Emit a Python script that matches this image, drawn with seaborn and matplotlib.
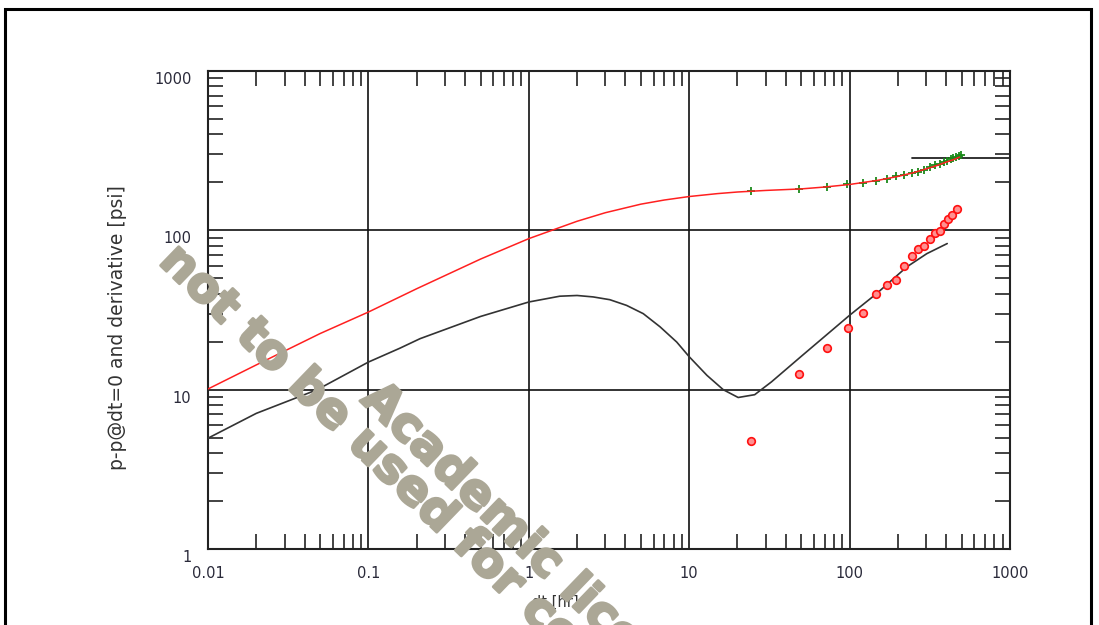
import numpy as np
import pandas as pd
import matplotlib
matplotlib.use("Agg")
import matplotlib.pyplot as plt
import seaborn as sns
from matplotlib.ticker import FixedLocator, LogLocator, NullFormatter
from matplotlib.transforms import ScaledTranslation
import matplotlib.patches as mpatches
import matplotlib.patheffects as pe

# ---------------- data ----------------
model_dt = [0.01, 0.02, 0.05, 0.1, 0.2, 0.5, 1, 2, 3, 5, 7, 10, 15, 20, 30, 50,
            70, 100, 150, 200, 250, 300, 350, 400, 450, 485]
model_dp = [10.1, 14.3, 22.5, 30.7, 43, 66, 88.7, 114, 129, 146, 155, 163, 170,
            174, 178, 182, 187, 194, 206, 218, 230, 243, 255, 268, 279, 288]

deriv_dt = [0.01, 0.02, 0.048, 0.1, 0.157, 0.21, 0.5, 1, 1.56, 2.0, 2.52, 3.2,
            4.07, 5.17, 6.58, 8.36, 10, 12.9, 16.3, 20.2, 25.6, 32.6, 50, 100,
            147.5, 227, 303, 406]
deriv_val = [4.96, 7.1, 10, 14.9, 18.2, 20.9, 28.8, 35.5, 38.6, 39, 38.2, 36.7,
             33.8, 30.0, 24.8, 19.9, 16.1, 12.3, 10.0, 8.93, 9.3, 11.2, 16.2, 29.3,
             40.1, 58.9, 71.4, 82.6]

meas_dt = [24.3, 48.4, 72, 97, 122, 146, 170, 195, 218, 245, 268, 291, 316, 341,
           364, 386, 407, 428, 444, 461, 478, 494]
meas_dp = [176, 182, 188, 194, 199, 205, 210, 218, 224, 229, 233, 240, 250, 256,
           262, 267, 274, 279, 284, 288, 292, 297]

mderiv_dt = [24.3, 48.6, 72.6, 97.3, 122, 145.5, 170, 194.5, 218, 244, 268, 292,
             316, 341, 366, 389, 412, 437, 465]
mderiv = [4.78, 12.6, 18.3, 24.3, 30.3, 39.9, 45.4, 48.6, 59.4, 69, 76, 79.7,
          88.7, 96.8, 99, 110, 118, 124, 137]

flat_dt = [244, 1000]
flat_val = [284, 284]

xticks = [0.01, 0.1, 1, 10, 100, 1000]
xticklabels = ["0.01", "0.1", "1", "10", "100", "1000"]
yticks = [1, 10, 100, 1000]
yticklabels = ["1", "10", "100", "1000"]

xlabel = "dt [hr]"
ylabel = "p-p@dt=0 and derivative [psi]"
wm1 = "not to be used for commercial purposes"
wm2 = "Academic license"

# ---------------- figure ----------------
sns.set_style("white")
plt.rcParams["font.family"] = ["DejaVu Sans"]

W, H = 1099, 625
fig = plt.figure(figsize=(W / 100, H / 100), dpi=100)
ax = fig.add_axes([208 / W, 1 - 549 / H, (1010 - 208) / W, (549 - 71) / H])

df_model = pd.DataFrame({"dt": model_dt, "v": model_dp})
df_deriv = pd.DataFrame({"dt": deriv_dt, "v": deriv_val})
df_meas = pd.DataFrame({"dt": meas_dt, "v": meas_dp})
df_md = pd.DataFrame({"dt": mderiv_dt, "v": mderiv})
df_flat = pd.DataFrame({"dt": flat_dt, "v": flat_val})

sns.lineplot(data=df_model, x="dt", y="v", ax=ax, color="#ff2020", lw=1.1,
             estimator=None, sort=False, zorder=7)
sns.lineplot(data=df_deriv, x="dt", y="v", ax=ax, color="#333333", lw=1.2,
             estimator=None, sort=False, zorder=4)
sns.lineplot(data=df_flat, x="dt", y="v", ax=ax, color="#222222", lw=1.3,
             estimator=None, sort=False, zorder=3)
sns.scatterplot(data=df_md, x="dt", y="v", ax=ax, marker="o", s=30,
                facecolor="#ff9090", edgecolor="#ff1010", linewidth=1.2, zorder=5)
sns.scatterplot(data=df_meas, x="dt", y="v", ax=ax, marker="+", s=30,
                color="#1a8a1a", linewidth=1.3, zorder=6)

ax.set_xscale("log")
ax.set_yscale("log")
ax.set_xlim(0.01, 1000)
ax.set_ylim(1, 1000)

ax.xaxis.set_major_locator(FixedLocator(xticks))
ax.set_xticklabels(xticklabels)
ax.yaxis.set_major_locator(FixedLocator(yticks))
ax.set_yticklabels(yticklabels)
ax.xaxis.set_minor_locator(LogLocator(base=10, subs=np.arange(2, 10), numticks=20))
ax.yaxis.set_minor_locator(LogLocator(base=10, subs=np.arange(2, 10), numticks=20))
ax.xaxis.set_minor_formatter(NullFormatter())
ax.yaxis.set_minor_formatter(NullFormatter())

ax.grid(True, which="major", color="#111111", lw=1.2)
ax.tick_params(which="major", length=0, labelsize=10.5, labelcolor="#2a2a3a", pad=12)
ax.tick_params(which="minor", direction="in", length=11, width=1.2, color="#222222",
               top=True, right=True, bottom=True, left=True)
for s in ax.spines.values():
    s.set_color("#222222")
    s.set_linewidth(1.5)

off = ScaledTranslation(0, -7 / 100, fig.dpi_scale_trans)
for lab in ax.get_yticklabels():
    lab.set_transform(lab.get_transform() + off)

ax.set_xlabel(xlabel, fontsize=10.5, color="#333333")
ax.xaxis.set_label_coords((555 - 208) / 802, -(595 - 549) / 478)
ax.set_ylabel(ylabel, fontsize=13.5, color="#333333")
ax.yaxis.set_label_coords((127 - 208) / 802, 1 - (328 - 71) / 478)

# watermark
wm_color = "#aba796"
stroke = [pe.withStroke(linewidth=2.0, foreground=wm_color)]
fig.text(167 / W, 1 - 253 / H, wm1, rotation=-44, rotation_mode="anchor",
         ha="left", va="center", fontsize=34.5, fontweight="bold",
         color=wm_color, zorder=20, path_effects=stroke)
fig.text(369 / W, 1 - 391 / H, wm2, rotation=-44, rotation_mode="anchor",
         ha="left", va="center", fontsize=34.5, fontweight="bold",
         color=wm_color, zorder=20, path_effects=stroke)

# outer frame
frame = mpatches.Rectangle((5 / W, -0.1), (1091 - 5) / W, 1.1 - 9 / H,
                           transform=fig.transFigure, fill=False,
                           ec="black", lw=2.2, zorder=30)
fig.patches.append(frame)

fig.savefig("out.png", dpi=100)
